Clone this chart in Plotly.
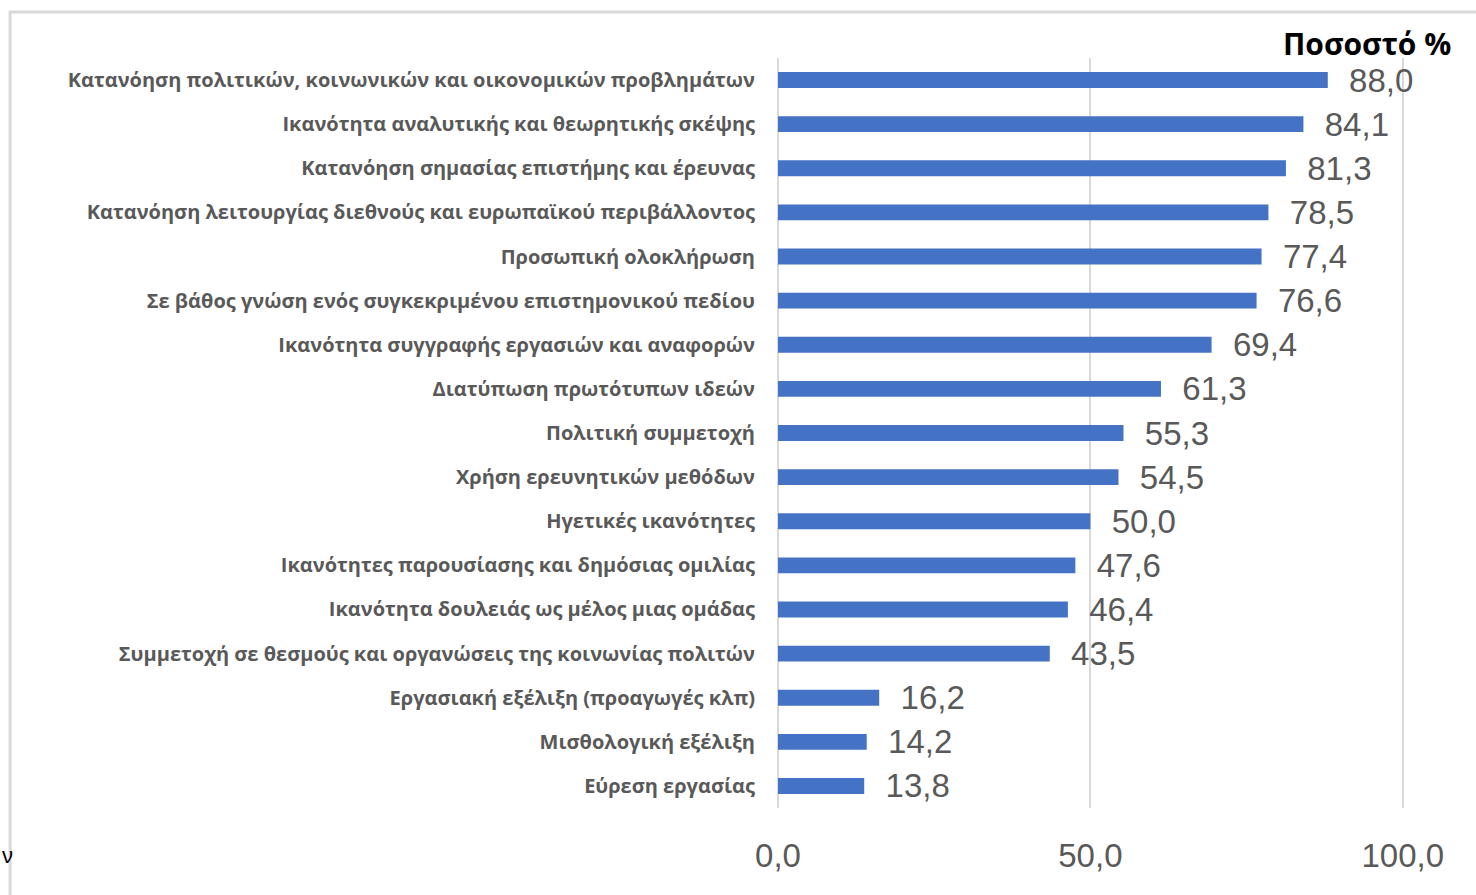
import plotly.graph_objects as go

# --- data ---
categories = [
    "Κατανόηση πολιτικών, κοινωνικών και οικονομικών προβλημάτων",
    "Ικανότητα αναλυτικής και θεωρητικής σκέψης",
    "Κατανόηση σημασίας επιστήμης και έρευνας",
    "Κατανόηση λειτουργίας διεθνούς και ευρωπαϊκού περιβάλλοντος",
    "Προσωπική ολοκλήρωση",
    "Σε βάθος γνώση ενός συγκεκριμένου επιστημονικού πεδίου",
    "Ικανότητα συγγραφής εργασιών και αναφορών",
    "Διατύπωση πρωτότυπων ιδεών",
    "Πολιτική συμμετοχή",
    "Χρήση ερευνητικών μεθόδων",
    "Ηγετικές ικανότητες",
    "Ικανότητες παρουσίασης και δημόσιας ομιλίας",
    "Ικανότητα δουλειάς ως μέλος μιας ομάδας",
    "Συμμετοχή σε θεσμούς και οργανώσεις της κοινωνίας πολιτών",
    "Εργασιακή εξέλιξη (προαγωγές κλπ)",
    "Μισθολογική εξέλιξη",
    "Εύρεση εργασίας",
]
values = [88.0, 84.1, 81.3, 78.5, 77.4, 76.6, 69.4, 61.3, 55.3, 54.5,
          50.0, 47.6, 46.4, 43.5, 16.2, 14.2, 13.8]
x_ticks = [0, 50, 100]

grey = "#595959"
grid = "#d9d9d9"

fig = go.Figure(go.Bar(
    x=values, y=categories, orientation="h",
    marker=dict(color="#4472C4", line=dict(width=0)),
    text=values, texttemplate="  %{x:.1f}", textposition="outside",
    constraintext="none",
    textfont=dict(family="Liberation Sans, Arial", size=33, color=grey),
    cliponaxis=False,
))

# plot area: x 778..1409 (0..101), y 58..808
fig.update_layout(
    width=1476, height=895,
    margin=dict(l=778, r=67, t=58, b=87),
    plot_bgcolor="white", paper_bgcolor="white",
    separators=",.",
    bargap=0.64,
    showlegend=False,
    xaxis=dict(range=[0, 101], tickvals=x_ticks, tickformat=".1f",
               showgrid=True, gridcolor=grid, gridwidth=2,
               zeroline=True, zerolinecolor=grid, zerolinewidth=2,
               showline=False, ticks="", ticklabelstandoff=25,
               tickfont=dict(family="Liberation Sans, Arial", size=33, color=grey)),
    yaxis=dict(autorange="reversed", showgrid=False, ticks="",
               ticklabelstandoff=22,
               tickfont=dict(family="Open Sans", size=20, color=grey, weight=700)),
)

# chart frame
fig.add_shape(type="rect", xref="paper", yref="paper",
              x0=-1.217, x1=1.12, y0=-0.13, y1=1.0613,
              line=dict(color=grid, width=3), layer="below")

fig.add_annotation(text="<b>Ποσοστό %</b>", xref="paper", yref="paper",
                   x=1.0697, y=1.0187, xanchor="right", yanchor="middle",
                   showarrow=False,
                   font=dict(family="Open Sans", size=30, color="black"))
fig.add_annotation(text="ν", xref="paper", yref="paper",
                   x=-1.2329, y=-0.063, xanchor="left", yanchor="middle",
                   showarrow=False,
                   font=dict(family="Liberation Sans", size=22, color="black"))

fig.write_html("out.html", config={"displayModeBar": False},
               post_script="document.body.style.margin='0';")
